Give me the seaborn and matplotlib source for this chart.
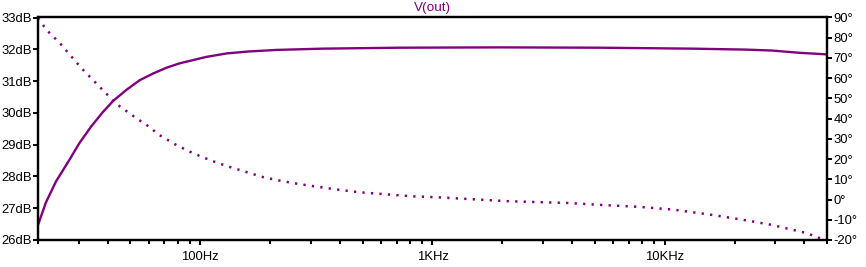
import matplotlib
matplotlib.use("Agg")
import matplotlib.pyplot as plt
import seaborn as sns
import numpy as np
import pandas as pd
from matplotlib.ticker import LogLocator, FixedLocator, FixedFormatter, NullFormatter

# ---- data ----
mag_freq = [20, 21.6, 23.9, 27.3, 30.1, 33.8, 38.0, 42.2, 48.2, 54.9, 62.7, 71.5, 81.6, 93.1,
            106, 130, 161, 213, 268, 337, 721, 1942, 5225, 13160, 22340, 29080, 37860, 50000]
mag_db = [26.47, 27.17, 27.84, 28.52, 29.04, 29.56, 30.02, 30.38, 30.73, 31.03, 31.24, 31.42,
          31.56, 31.66, 31.76, 31.87, 31.93, 31.98, 32.0, 32.02, 32.05, 32.06, 32.05, 32.02,
          31.99, 31.96, 31.89, 31.84]

ph_freq = [20, 21.8, 24.9, 30.8, 37.0, 43.6, 53.2, 61.7, 64.8, 79.0, 93.1, 111.7, 133, 159,
           187.6, 223, 265, 316, 409, 485, 628, 818, 1061, 1264, 2098, 2735, 3846, 5410,
           7760, 10910, 15590, 20140, 24300, 28820, 34800, 41260, 44840, 50000]
ph_deg = [89.7, 83.8, 77.2, 64.9, 55.5, 47.2, 40.1, 35.2, 32.7, 26.9, 22.9, 19.2, 16.2, 13.5,
          11.0, 9.2, 7.7, 6.4, 4.6, 3.6, 2.6, 1.6, 1.1, 0.6, -0.8, -1.2, -1.7, -2.7,
          -3.6, -5.0, -7.4, -9.4, -11.0, -12.5, -14.7, -16.7, -18.5, -20.1]

db_ticks = [26, 27, 28, 29, 30, 31, 32, 33]
db_labels = ["26dB", "27dB", "28dB", "29dB", "30dB", "31dB", "32dB", "33dB"]
deg_ticks = [-20, -10, 0, 10, 20, 30, 40, 50, 60, 70, 80, 90]
deg_labels = ["-20°", "-10°", "0°", "10°", "20°", "30°", "40°", "50°", "60°", "70°", "80°", "90°"]
freq_ticks = [100, 1000, 10000]
freq_labels = ["100Hz", "1KHz", "10KHz"]
title = "V(out)"

PURPLE = "#800080"

sns.set_theme(style="white")
plt.rcParams["font.family"] = ["Liberation Sans", "DejaVu Sans"]

fig = plt.figure(figsize=(8.66, 2.67), dpi=100)
ax = fig.add_axes([38 / 866, 1 - 240 / 267, (827 - 38) / 866, (240 - 17.5) / 267])
ax2 = ax.twinx()

mag_df = pd.DataFrame({"f": mag_freq, "db": mag_db})
ph_df = pd.DataFrame({"f": ph_freq, "deg": ph_deg})

sns.lineplot(data=mag_df, x="f", y="db", ax=ax, color=PURPLE, lw=1.7)
sns.lineplot(data=ph_df, x="f", y="deg", ax=ax2, color=PURPLE, lw=1.8,
             linestyle=(0, (0.9, 2.5)))

ax.set_xscale("log")
ax.set_xlim(20, 50000)
ax.set_ylim(26, 33)
ax2.set_ylim(-20, 90)

ax.xaxis.set_major_locator(FixedLocator(freq_ticks))
ax.xaxis.set_major_formatter(FixedFormatter(freq_labels))
ax.xaxis.set_minor_locator(LogLocator(base=10, subs=np.arange(2, 10)))
ax.xaxis.set_minor_formatter(NullFormatter())
ax.set_yticks(db_ticks)
ax.set_yticklabels(db_labels)
ax2.set_yticks(deg_ticks)
ax2.set_yticklabels(deg_labels)

ax.set_xlabel("")
ax.set_ylabel("")
ax2.set_ylabel("")
ax2.set_xlabel("")

for a in (ax, ax2):
    for s in a.spines.values():
        s.set_color("black")
        s.set_linewidth(1.6)
    a.grid(False)

FS = 9.4
ax.tick_params(axis="both", which="major", direction="out", length=3.8, width=1.4,
               color="black", labelsize=FS, labelcolor="black", pad=0.8,
               left=True, bottom=True)
ax.tick_params(axis="x", which="minor", direction="out", length=3.2, width=1.4, color="black",
               bottom=True)
ax.tick_params(axis="x", which="major", pad=4)
ax2.tick_params(axis="y", which="major", direction="out", length=3.8, width=1.4,
                color="black", labelsize=FS, labelcolor="black", pad=0.8, right=True)

fig.text((38 + 827) / 2 / 866, 1 - 8 / 267, title, color=PURPLE, fontsize=FS + 0.3,
         ha="center", va="center")

fig.savefig("out.png", dpi=100, facecolor="white")
